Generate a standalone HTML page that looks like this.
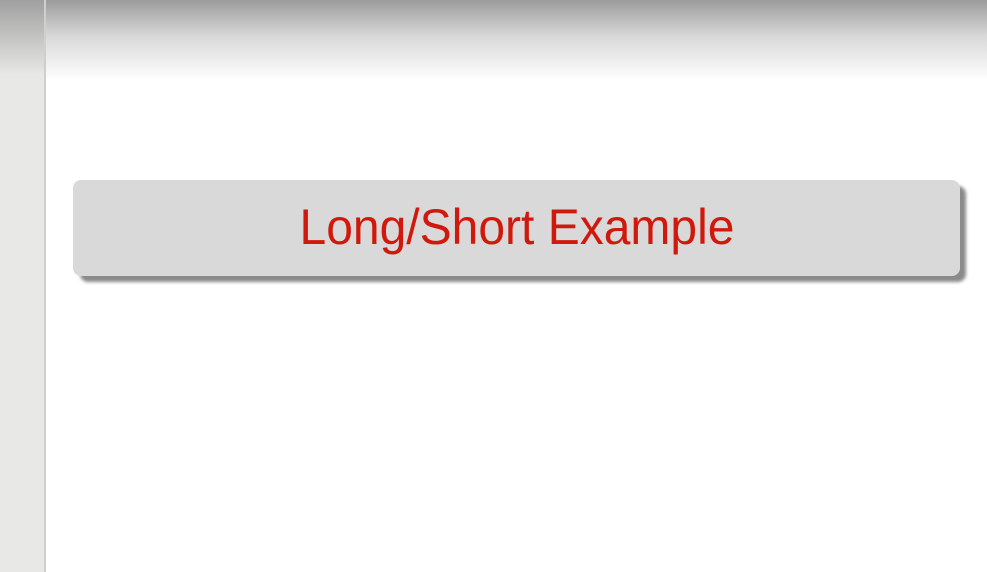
<!DOCTYPE html>
<html><head><style>
html,body{margin:0;padding:0;width:987px;height:572px;overflow:hidden;background:#fff;}
</style></head><body>
<svg width="987" height="572" xmlns="http://www.w3.org/2000/svg">
<defs>
<linearGradient id="tg" x1="0" y1="0" x2="0" y2="1">
<stop offset="0" stop-color="#9c9c9c"/>
<stop offset="0.45" stop-color="#d8d8d8"/>
<stop offset="1" stop-color="#ffffff"/>
</linearGradient>
<linearGradient id="sg" x1="0" y1="0" x2="0" y2="1">
<stop offset="0" stop-color="#a0a0a0"/>
<stop offset="1" stop-color="#e8e8e6"/>
</linearGradient>
<filter id="bl"><feGaussianBlur stdDeviation="1.5"/></filter>
</defs>
<rect x="0" y="0" width="987" height="572" fill="#fff"/>
<rect x="0" y="0" width="987" height="80" fill="url(#tg)"/>
<rect x="0" y="0" width="46" height="572" fill="#e8e8e6"/>
<rect x="0" y="0" width="46" height="75" fill="url(#sg)"/>
<rect x="44" y="0" width="2" height="572" fill="#cfcfcd"/>
<rect x="80" y="186" width="886" height="96" rx="8" fill="#8a8a8a" filter="url(#bl)"/>
<rect x="73" y="180" width="887" height="96" rx="8" fill="#d9d9d9"/>
<text x="517" y="244" text-anchor="middle" font-family="Liberation Sans, sans-serif" font-size="50" fill="#d0190c" textLength="435" lengthAdjust="spacingAndGlyphs">Long/Short Example</text>
</svg>
</body></html>
